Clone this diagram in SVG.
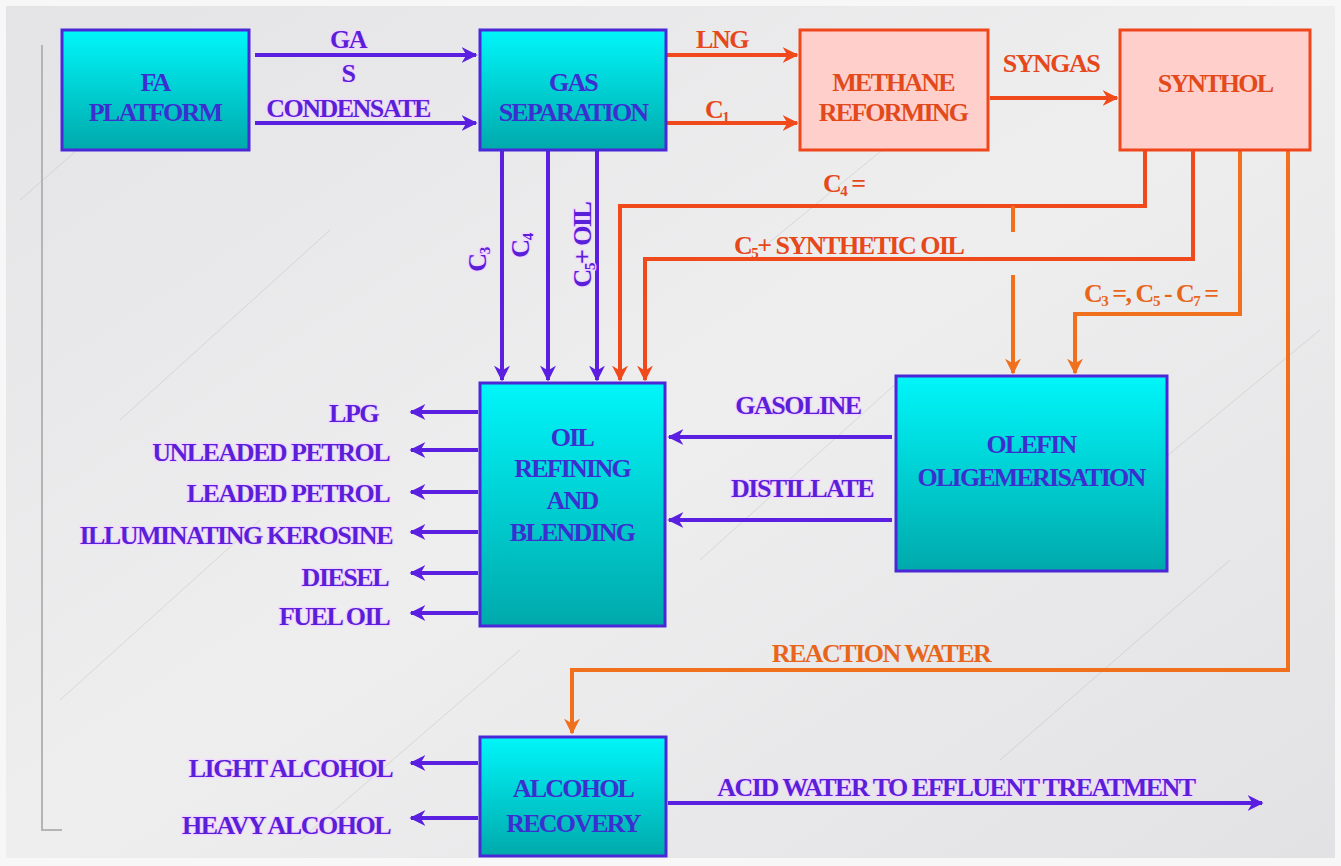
<svg xmlns="http://www.w3.org/2000/svg" width="1341" height="866" viewBox="0 0 1341 866">
<defs>
  <linearGradient id="cyan" x1="0" y1="0" x2="0" y2="1">
    <stop offset="0" stop-color="#00f6fa"/>
    <stop offset="1" stop-color="#00a9ab"/>
  </linearGradient>
  <linearGradient id="bg" x1="0" y1="0" x2="1" y2="1">
    <stop offset="0" stop-color="#e4e4e6"/>
    <stop offset="0.5" stop-color="#eeeeef"/>
    <stop offset="1" stop-color="#e2e2e4"/>
  </linearGradient>
  <marker id="ap" viewBox="0 0 10 10" refX="9" refY="5" markerWidth="4" markerHeight="4" orient="auto" markerUnits="strokeWidth">
    <path d="M0,0 L10,5 L0,10 L3,5 Z" fill="#5a1fe0"/>
  </marker>
  <marker id="ar" viewBox="0 0 10 10" refX="9" refY="5" markerWidth="4" markerHeight="4" orient="auto" markerUnits="strokeWidth">
    <path d="M0,0 L10,5 L0,10 L3,5 Z" fill="#f04a1c"/>
  </marker>
  <marker id="ao" viewBox="0 0 10 10" refX="9" refY="5" markerWidth="4" markerHeight="4" orient="auto" markerUnits="strokeWidth">
    <path d="M0,0 L10,5 L0,10 L3,5 Z" fill="#f0701e"/>
  </marker>
</defs>
<style>
  .t { font-family: "Liberation Serif", "Times New Roman", serif; font-weight: bold; }
  .node { stroke-width: 3; }
  .cy { fill: url(#cyan); stroke: #4a28d8; }
  .pk { fill: #ffcfcc; stroke: #f0461c; }
  .nt { font-size: 26px; fill: #3c2fd0; text-anchor: middle; letter-spacing: -1.8px; }
  .nr { font-size: 26px; fill: #e24a1c; text-anchor: middle; letter-spacing: -1.8px; }
  .lp { font-size: 26px; fill: #5a1fd8; letter-spacing: -1.5px; paint-order: stroke; stroke: #f3d6ff; stroke-width: 2.5px; }
  .lr { font-size: 26px; fill: #e6481c; letter-spacing: -1.5px; }
  .lo { font-size: 26px; fill: #e8661c; letter-spacing: -1.5px; }
  .mid { text-anchor: middle; }
  .end { text-anchor: end; }
  .cp { fill: none; stroke: #5a1fe0; stroke-width: 4; marker-end: url(#ap); }
  .cr { fill: none; stroke: #f04a1c; stroke-width: 4; }
  .co { fill: none; stroke: #f0701e; stroke-width: 4; }
  .sub { font-size: 15px; }
</style>
<rect x="0" y="0" width="1341" height="866" fill="#f7f7f7"/>
<rect x="6" y="6" width="1329" height="852" fill="url(#bg)"/>
<g opacity="0.25" stroke="#9a9a9a" stroke-width="1" fill="none">
  <path d="M20,200 L180,60 M120,420 L330,230 M700,560 L900,380 M1000,760 L1230,560 M60,700 L260,520 M760,250 L980,70 M1150,470 L1320,330 M300,840 L520,650"/>
</g>
<path d="M42,45 L42,830 L62,830" fill="none" stroke="#b4b4b4" stroke-width="2"/>

<g id="connectors">
  <path class="cp" d="M255,55 L476,55"/>
  <path class="cp" d="M255,123 L476,123"/>
  <path class="cr" marker-end="url(#ar)" d="M667,55 L797,55"/>
  <path class="cr" marker-end="url(#ar)" d="M667,123 L797,123"/>
  <path class="cr" marker-end="url(#ar)" d="M990,98 L1117,98"/>
  <path class="cp" d="M502,151 L502,380"/>
  <path class="cp" d="M548,151 L548,380"/>
  <path class="cp" d="M597,151 L597,380"/>
  <path class="cr" marker-end="url(#ar)" d="M1145,151 L1145,206 L620,206 L620,380"/>
  <path class="cr" marker-end="url(#ar)" d="M1193,151 L1193,259 L645,259 L645,380"/>
  <path class="co" d="M1013,206 L1013,232"/>
  <path class="co" marker-end="url(#ao)" d="M1013,275 L1013,373"/>
  <path class="co" marker-end="url(#ao)" d="M1240,151 L1240,314 L1075,314 L1075,373"/>
  <path class="co" marker-end="url(#ao)" d="M1288,151 L1288,670 L572,670 L572,733"/>
  <path class="cp" d="M892,437 L669,437"/>
  <path class="cp" d="M892,520 L669,520"/>
  <path class="cp" d="M478,412 L411,412"/>
  <path class="cp" d="M478,450 L411,450"/>
  <path class="cp" d="M478,492 L411,492"/>
  <path class="cp" d="M478,532 L411,532"/>
  <path class="cp" d="M478,573 L411,573"/>
  <path class="cp" d="M478,613 L411,613"/>
  <path class="cp" d="M478,763 L411,763"/>
  <path class="cp" d="M478,818 L411,818"/>
  <path class="cp" d="M668,803 L1262,803"/>

  <text class="t lp mid" x="348" y="48">GA</text>
  <text class="t lp mid" x="348" y="82">S</text>
  <text class="t lp mid" x="348" y="117">CONDENSATE</text>
  <text class="t lr mid" x="722" y="48">LNG</text>
  <text class="t lr" x="705" y="118">C<tspan class="sub" dy="4">1</tspan></text>
  <text class="t lr mid" x="1051" y="72">SYNGAS</text>
  <text class="t lp mid" transform="translate(486,260) rotate(-90)">C<tspan class="sub" dy="4">3</tspan></text>
  <text class="t lp mid" transform="translate(529,246) rotate(-90)">C<tspan class="sub" dy="4">4</tspan></text>
  <text class="t lp mid" transform="translate(591,245) rotate(-90)">C<tspan class="sub" dy="4">5</tspan><tspan dy="-4">+ OIL</tspan></text>
  <text class="t lr" x="823" y="192">C<tspan class="sub" dy="4">4</tspan><tspan dy="-4"> =</tspan></text>
  <text class="t lr" x="734" y="254">C<tspan class="sub" dy="4">5</tspan><tspan dy="-4">+ SYNTHETIC OIL</tspan></text>
  <text class="t lo" x="1084" y="302">C<tspan class="sub" dy="4">3</tspan><tspan dy="-4"> =, C</tspan><tspan class="sub" dy="4">5</tspan><tspan dy="-4"> - C</tspan><tspan class="sub" dy="4">7</tspan><tspan dy="-4"> =</tspan></text>
  <text class="t lo mid" x="881" y="662">REACTION WATER</text>
  <text class="t lp mid" x="798" y="414">GASOLINE</text>
  <text class="t lp mid" x="802" y="497">DISTILLATE</text>
  <text class="t lp end" x="378" y="422">LPG</text>
  <text class="t lp end" x="389" y="461">UNLEADED PETROL</text>
  <text class="t lp end" x="389" y="502">LEADED PETROL</text>
  <text class="t lp end" x="392" y="544">ILLUMINATING KEROSINE</text>
  <text class="t lp end" x="388" y="586">DIESEL</text>
  <text class="t lp end" x="389" y="625">FUEL OIL</text>
  <text class="t lp end" x="392" y="777">LIGHT ALCOHOL</text>
  <text class="t lp end" x="390" y="834">HEAVY ALCOHOL</text>
  <text class="t lp mid" x="956" y="796">ACID WATER TO EFFLUENT TREATMENT</text>
</g>

<g id="fa-platform">
  <rect class="node cy" x="62" y="30" width="187" height="120"/>
  <text class="t nt" x="155" y="91">FA</text>
  <text class="t nt" x="155" y="121">PLATFORM</text>
</g>
<g id="gas-separation">
  <rect class="node cy" x="480" y="30" width="186" height="120"/>
  <text class="t nt" x="573" y="91">GAS</text>
  <text class="t nt" x="573" y="121">SEPARATION</text>
</g>
<g id="methane-reforming">
  <rect class="node pk" x="800" y="30" width="188" height="120"/>
  <text class="t nr" x="893" y="91">METHANE</text>
  <text class="t nr" x="893" y="121">REFORMING</text>
</g>
<g id="synthol">
  <rect class="node pk" x="1120" y="30" width="190" height="120"/>
  <text class="t nr" x="1215" y="92">SYNTHOL</text>
</g>
<g id="oil-refining">
  <rect class="node cy" x="480" y="383" width="185" height="243"/>
  <text class="t nt" x="572" y="446">OIL</text>
  <text class="t nt" x="572" y="477">REFINING</text>
  <text class="t nt" x="572" y="509">AND</text>
  <text class="t nt" x="572" y="541">BLENDING</text>
</g>
<g id="olefin">
  <rect class="node cy" x="896" y="376" width="271" height="195"/>
  <text class="t nt" x="1031" y="453">OLEFIN</text>
  <text class="t nt" x="1031" y="486">OLIGEMERISATION</text>
</g>
<g id="alcohol-recovery">
  <rect class="node cy" x="480" y="737" width="186" height="119"/>
  <text class="t nt" x="573" y="797">ALCOHOL</text>
  <text class="t nt" x="573" y="832">RECOVERY</text>
</g>
</svg>
